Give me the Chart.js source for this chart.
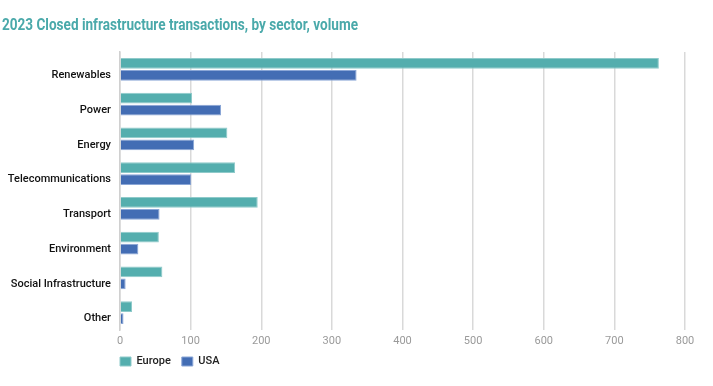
<!DOCTYPE html>
<html>
<head>
<meta charset="utf-8">
<script src="https://cdn.jsdelivr.net/npm/chart.js@4/dist/chart.umd.min.js"></script>
<style>
  html, body { margin: 0; padding: 0; background: #fff; }
  #wrap { width: 713px; height: 386px; }
</style>
</head>
<body>
<div id="wrap"><canvas id="sectorChart"></canvas></div>
<script>
// Sector categories, top to bottom
const sectors = [
  "Renewables",
  "Power",
  "Energy",
  "Telecommunications",
  "Transport",
  "Environment",
  "Social Infrastructure",
  "Other",
];

// Closed transactions (volume)
const europeValues = [763, 102, 152, 163, 195, 55, 60, 17];
const usaValues = [335, 143, 105, 101, 56, 26, 8, 5];

const xTicks = [0, 100, 200, 300, 400, 500, 600, 700, 800];

const titleText = "2023 Closed infrastructure transactions, by sector, volume";

// Condensed title: the reference uses a narrow face we don't have,
// so squeeze a normal bold face horizontally to the same width
const condensedTitle = {
  id: "condensedTitle",
  afterDraw(chart) {
    const c = chart.ctx;
    c.save();
    c.font = "bold 17px Roboto, 'Liberation Sans', Arial";
    c.fillStyle = "#4aa9aa";
    c.textBaseline = "alphabetic";
    const w = c.measureText(titleText).width;
    const sx = 356 / w;
    c.translate(2, 30);
    c.scale(sx, 1);
    c.fillText(titleText, 0, 0);
    c.restore();
  },
};

// Move the legend so its first box lines up with the plot's left edge
const legendShift = {
  id: "legendShift",
  beforeDraw(chart) {
    const legend = chart.legend;
    const pad = legend.options.labels.padding;
    const dx = chart.chartArea.left - pad - legend.left;
    legend.left += dx;
    legend.right += dx;
  },
};

const ctx = document.getElementById("sectorChart");

new Chart(ctx.getContext("2d"), {
  type: "bar",
  data: {
    labels: sectors,
    datasets: [
      {
        label: "Europe",
        data: europeValues,
        backgroundColor: "#54aeae",
        borderColor: "#8fcaca",
        borderWidth: 1,
        barPercentage: 0.88,
        categoryPercentage: 0.7,
      },
      {
        label: "USA",
        data: usaValues,
        backgroundColor: "#436db4",
        borderColor: "#8aa6d6",
        borderWidth: 1,
        barPercentage: 0.88,
        categoryPercentage: 0.7,
      },
    ],
  },
  plugins: [condensedTitle, legendShift],
  options: {
    indexAxis: "y",
    responsive: true,
    maintainAspectRatio: false,
    animation: false,
    layout: {
      padding: { left: 0, right: 28, top: 52, bottom: 9 },
    },
    plugins: {
      title: { display: false },
      legend: {
        position: "bottom",
        align: "start",
        fullSize: false,
        labels: {
          boxWidth: 11,
          boxHeight: 9,
          color: "#222",
          padding: 11,
          font: { family: "Roboto, 'Liberation Sans', Arial", size: 11, weight: "500" },
        },
      },
      tooltip: { enabled: false },
    },
    scales: {
      x: {
        min: 0,
        max: 800,
        afterBuildTicks: (scale) => {
          scale.ticks = xTicks.map((v) => ({ value: v }));
        },
        afterFit: (scale) => {
          scale.height = 15;
        },
        grid: {
          color: "#d9d9d9",
          lineWidth: 1.5,
          drawTicks: false,
        },
        border: { display: false },
        ticks: {
          color: "#9a9a9a",
          padding: 5,
          font: { family: "Roboto, 'Liberation Sans', Arial", size: 11 },
        },
      },
      y: {
        afterFit: (scale) => {
          scale.width = 120;
        },
        grid: { display: false, drawTicks: false },
        border: { display: true, color: "#d0d0d0", width: 1.5 },
        ticks: {
          color: "#111",
          padding: 9,
          labelOffset: 6,
          font: { family: "Roboto, 'Liberation Sans', Arial", size: 11, weight: "500" },
        },
      },
    },
  },
});
</script>
</body>
</html>
